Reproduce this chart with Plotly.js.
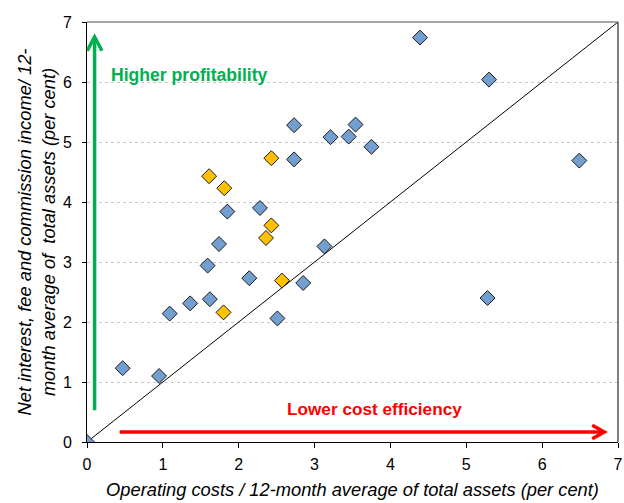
<!DOCTYPE html>
<html>
<head>
<meta charset="utf-8">
<script src="https://cdn.plot.ly/plotly-3.0.1.min.js"></script>
<style>html,body{margin:0;padding:0;background:#fff;}#chart{width:624px;height:503px;}</style>
</head>
<body>
<div id="chart"></div>
<script>
// Banks not highlighted (blue diamonds)
const blueX = [0, 0.47, 0.95, 1.09, 1.36, 1.62, 1.59, 1.74, 1.85, 2.14, 2.28, 2.51, 2.73, 2.73, 2.85, 3.13, 3.21, 3.45, 3.54, 3.75, 4.39, 5.30, 6.49, 5.28];
const blueY = [0, 1.23, 1.10, 2.14, 2.31, 2.38, 2.94, 3.30, 3.84, 2.73, 3.90, 2.06, 4.71, 5.28, 2.65, 3.26, 5.08, 5.09, 5.29, 4.92, 6.74, 6.04, 4.69, 2.40];
// Highlighted banks (orange diamonds)
const orangeX = [1.61, 1.81, 2.43, 2.43, 2.36, 1.80, 2.57];
const orangeY = [4.43, 4.23, 4.73, 3.61, 3.40, 2.16, 2.69];
// 45-degree reference line
const diagX = [0, 7];
const diagY = [0, 7];
const tickVals = [0, 1, 2, 3, 4, 5, 6, 7];
const tickText = ['0', '1', '2', '3', '4', '5', '6', '7'];

const FONT = 'Liberation Sans, Arial, sans-serif';
const markerStyle = (c) => ({symbol: 'diamond', size: 11.5, color: c, line: {color: '#1a1a1a', width: 1}});

const traces = [
  {x: diagX, y: diagY, mode: 'lines', line: {color: '#000', width: 1}, hoverinfo: 'skip', showlegend: false},
  {x: blueX, y: blueY, mode: 'markers', marker: markerStyle('#729FCF'), showlegend: false},
  {x: orangeX, y: orangeY, mode: 'markers', marker: markerStyle('#FFC000'), showlegend: false}
];

const green = '#00B050', red = '#FF0000';
const layout = {
  width: 624, height: 503,
  margin: {l: 87, r: 6, t: 22, b: 61},
  paper_bgcolor: '#fff', plot_bgcolor: '#fff',
  font: {family: FONT, size: 15, color: '#000'},
  xaxis: {
    range: [0, 7], tickvals: tickVals, ticktext: tickText,
    showgrid: false, zeroline: false, showline: true, linecolor: '#000', linewidth: 1,
    ticks: 'outside', ticklen: 5, tickcolor: '#000', ticklabelstandoff: 3,
    tickfont: {family: FONT, size: 16},
    automargin: false,
    title: {text: 'Operating costs / 12-month average of total assets (per cent)', font: {family: FONT, size: 18.3, style: 'italic'}, standoff: 10}
  },
  yaxis: {
    range: [0, 7], tickvals: tickVals, ticktext: tickText,
    showgrid: true, gridcolor: '#c8c8c8', griddash: 'dot', gridwidth: 1,
    zeroline: false, showline: true, linecolor: '#000', linewidth: 1,
    ticks: 'outside', ticklen: 4, tickcolor: '#000', ticklabelstandoff: 7,
    tickfont: {family: FONT, size: 16},
    automargin: false,
    title: {text: 'Net interest, fee and commission income/ 12-<br>month average of  total assets (per cent)', font: {family: FONT, size: 18.3, style: 'italic'}, standoff: 2}
  },
  shapes: [
    {type: 'line', xref: 'paper', yref: 'paper', x0: 0, x1: 1, y0: 1, y1: 1, line: {color: '#888', width: 1.5}},
    {type: 'line', xref: 'paper', yref: 'paper', x0: 1, x1: 1, y0: 0, y1: 1, line: {color: '#000', width: 1}},
    // green arrow
    {type: 'line', xref: 'x', yref: 'y', x0: 0.1, x1: 0.1, y0: 0.53, y1: 6.74, line: {color: green, width: 3.5}},
    {type: 'path', xref: 'x', yref: 'y', path: 'M 0.003 6.52 L 0.1 6.75 L 0.197 6.52', line: {color: green, width: 3.5}},
    // red arrow
    {type: 'line', xref: 'x', yref: 'y', x0: 0.43, x1: 6.8, y0: 0.167, y1: 0.167, line: {color: red, width: 3.5}},
    {type: 'path', xref: 'x', yref: 'y', path: 'M 6.66 0.28 L 6.82 0.167 L 6.66 0.054', line: {color: red, width: 3.5}}
  ],
  annotations: [
    {xref: 'x', yref: 'y', x: 0.29, y: 6.12, xanchor: 'left', yanchor: 'middle', showarrow: false, text: '<b>Higher profitability</b>', font: {family: FONT, size: 17.6, color: green}},
    {xref: 'x', yref: 'y', x: 3.79, y: 0.55, xanchor: 'center', yanchor: 'middle', showarrow: false, text: '<b>Lower cost efficiency</b>', font: {family: FONT, size: 17.2, color: red}}
  ]
};

Plotly.newPlot('chart', traces, layout, {displayModeBar: false, staticPlot: true});
</script>
</body>
</html>
